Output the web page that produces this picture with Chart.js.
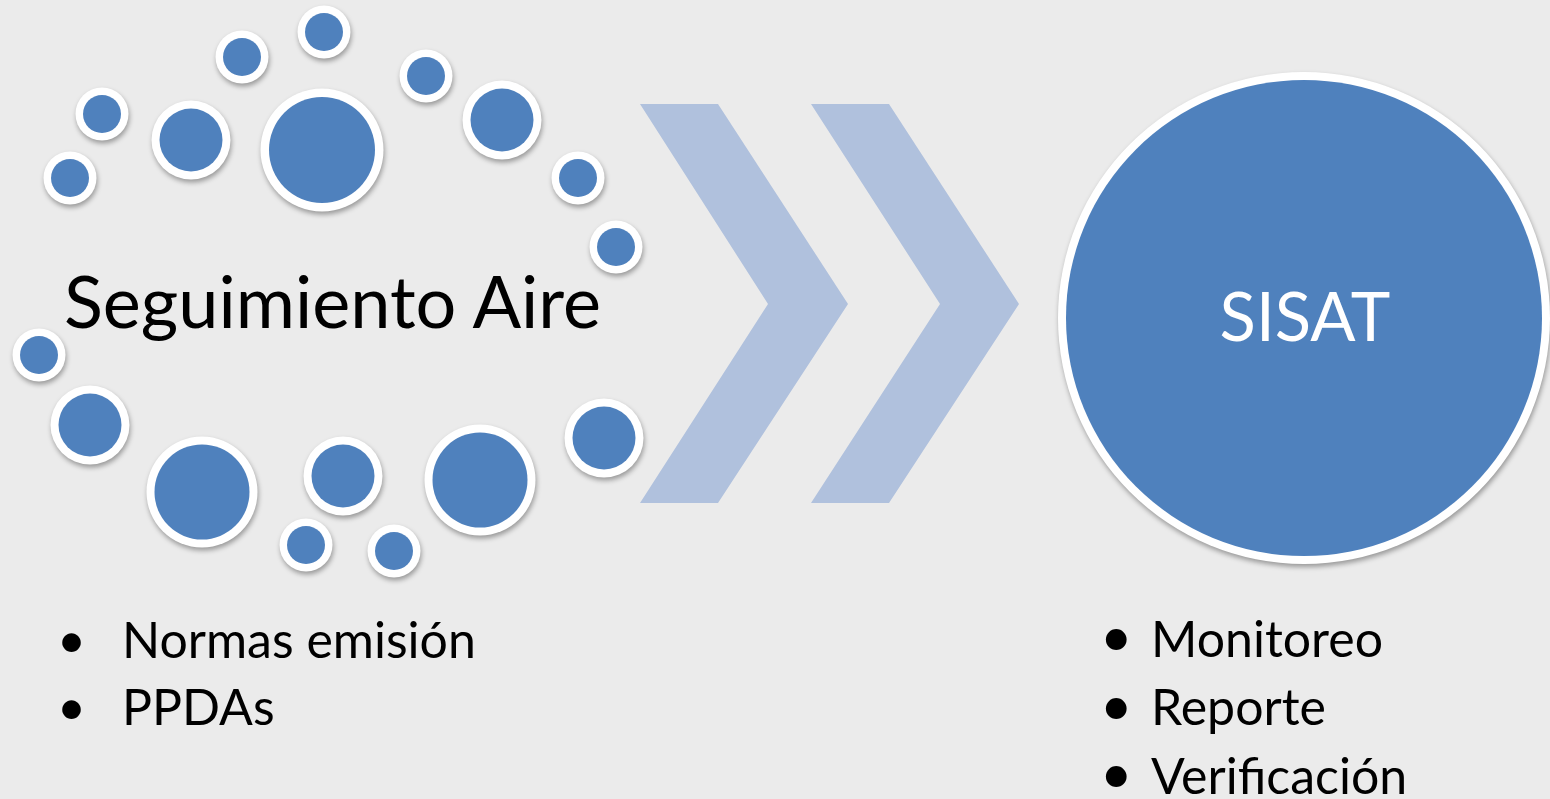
<!DOCTYPE html>
<html>
<head>
<meta charset="utf-8">
<script src="https://cdn.jsdelivr.net/npm/chart.js@4/dist/chart.umd.min.js"></script>
<style>
  html, body { margin: 0; padding: 0; background: #EBEBEB; overflow: hidden; }
  #wrap { position: relative; width: 1550px; height: 799px; }
  #wrap canvas { position: absolute; left: 0; top: 0; }
  .t { position: absolute; font-family: Lato, "Open Sans", sans-serif; line-height: 1; white-space: nowrap; color: #000; }
</style>
</head>
<body>
<div id="wrap">
  <canvas id="c"></canvas>
  <div class="t" id="title-left">Seguimiento Aire</div>
  <div class="t" id="title-right">SISAT</div>
</div>
<script>
// ---------- data ----------
const leftTitle = "Seguimiento Aire";
const rightTitle = "SISAT";
const leftItems = ["Normas emisión", "PPDAs"];
const rightItems = ["Monitoreo", "Reporte", "Verificación"];

// satellite bubbles (diagram coordinate space 0..1550 x 0..799)
const bubbleX = [70, 102, 191, 242, 322, 324, 426, 502, 578, 616, 39, 90, 202, 343, 480, 604, 306, 394];
const bubbleY = [178, 114, 140, 57, 150, 32, 76, 120, 178, 247, 355, 425, 492, 476, 480, 438, 545, 551];
const bubbleClass = [1, 1, 2, 1, 4, 1, 1, 2, 1, 1, 1, 2, 3, 2, 3, 2, 1, 1];

// hub bubble
const hubX = [1304];
const hubY = [318];

// chevrons (outline vertices)
const chevron1X = [640, 718, 848, 718, 640, 768];
const chevron1Y = [104, 104, 304, 503, 503, 304];
const chevron2X = [811, 889, 1019, 889, 811, 940];
const chevron2Y = [104, 104, 304, 503, 503, 304];

// ---------- styles ----------
const BLUE = '#4F81BD';
const CHEVRON = '#B0C1DD';
const RING = '#FFFFFF';
const outerR = { 1: 26.5, 2: 39.5, 3: 55.5, 4: 61.5 };
const ringW = { 1: 7.5, 2: 8, 3: 8, 4: 8.5 };
const hubOuter = 246, hubRing = 8;

const pts = (xs, ys) => xs.map((x, i) => ({ x, y: ys[i] }));
const bubbles = (xs, ys, rf) => xs.map((x, i) => ({ x, y: ys[i], r: rf(i) }));

const shadowed = new Set([0, 1, 2, 4]);
const shadowPlugin = {
  id: 'shadow',
  beforeDatasetDraw(chart, args) {
    if (shadowed.has(args.index)) {
      const ctx = chart.ctx;
      ctx.save();
      ctx.shadowColor = 'rgba(0,0,0,0.35)';
      ctx.shadowBlur = 5;
      ctx.shadowOffsetX = 1;
      ctx.shadowOffsetY = 3;
    }
  },
  afterDatasetDraw(chart, args) {
    if (shadowed.has(args.index)) chart.ctx.restore();
  }
};

const lineDs = (xs, ys) => ({
  type: 'line',
  data: pts(xs, ys),
  backgroundColor: CHEVRON,
  borderColor: CHEVRON,
  borderWidth: 0,
  pointRadius: 0,
  tension: 0,
  fill: 'shape',
  clip: false,
  order: 10
});

new Chart(document.getElementById('c'), {
  type: 'bubble',
  data: {
    datasets: [
      lineDs(chevron1X, chevron1Y),
      lineDs(chevron2X, chevron2Y),
      { data: bubbles(bubbleX, bubbleY, i => outerR[bubbleClass[i]]), backgroundColor: RING, borderWidth: 0, clip: false, order: 5 },
      { data: bubbles(bubbleX, bubbleY, i => outerR[bubbleClass[i]] - ringW[bubbleClass[i]]), backgroundColor: BLUE, borderWidth: 0, clip: false, order: 1 },
      { data: bubbles(hubX, hubY, () => hubOuter), backgroundColor: RING, borderWidth: 0, clip: false, order: 5 },
      { data: bubbles(hubX, hubY, () => hubOuter - hubRing), backgroundColor: BLUE, borderWidth: 0, clip: false, order: 1 }
    ]
  },
  options: {
    responsive: true,
    maintainAspectRatio: false,
    animation: false,
    events: [],
    layout: { padding: 0, autoPadding: false },
    plugins: { legend: { display: false }, tooltip: { enabled: false } },
    scales: {
      x: { type: 'linear', min: 0, max: 1550, display: false },
      y: { type: 'linear', min: 0, max: 799, reverse: true, display: false }
    }
  },
  plugins: [shadowPlugin]
});

// ---------- text placement ----------
const wrap = document.getElementById('wrap');
const ASC = 0.887; // baseline offset (em) for line-height 1
function place(el, left, baseline, size, extra) {
  el.style.fontSize = size + 'px';
  el.style.left = left + 'px';
  el.style.top = (baseline - ASC * size) + 'px';
  if (extra) Object.assign(el.style, extra);
}
const tl = document.getElementById('title-left');
tl.textContent = leftTitle;
place(tl, 64, 328, 72);
const tr = document.getElementById('title-right');
tr.textContent = rightTitle;
place(tr, 1205, 341, 67, { width: '200px', textAlign: 'center', color: '#fff' });

function list(items, bulletLeft, textLeft, firstBase, step, size, bulletSize) {
  items.forEach((s, i) => {
    const b = document.createElement('div');
    b.className = 't';
    b.textContent = '•';
    place(b, bulletLeft, firstBase + i * step, bulletSize);
    wrap.appendChild(b);
    const t = document.createElement('div');
    t.className = 't';
    t.textContent = s;
    place(t, textLeft, firstBase + i * step, size);
    wrap.appendChild(t);
  });
}
list(leftItems, 57, 122, 658, 67.5, 50, 50);
list(rightItems, 1100, 1151, 657, 68.5, 50, 56);
</script>
</body>
</html>
